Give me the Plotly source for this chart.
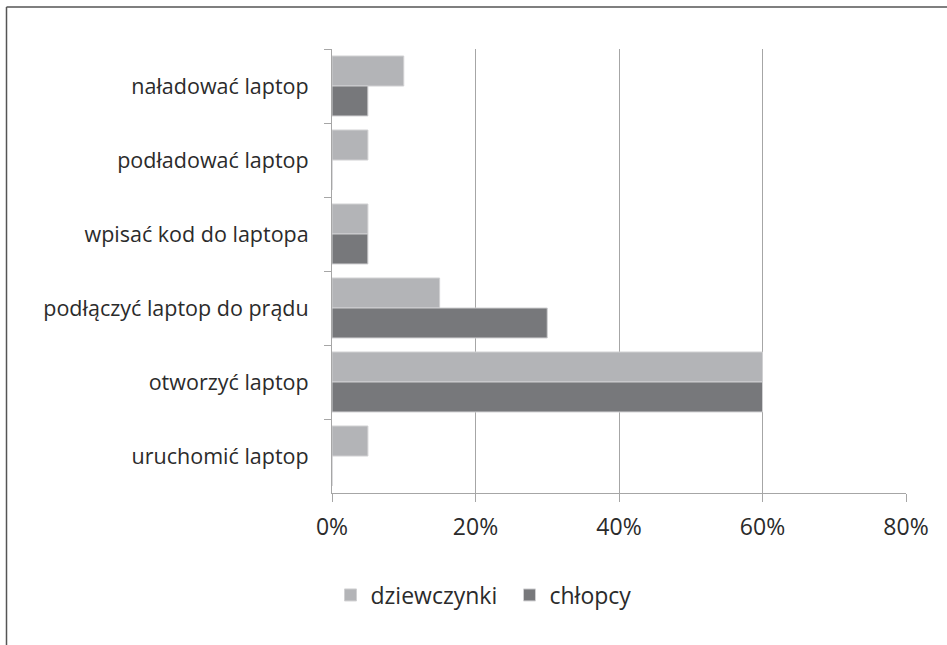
import plotly.graph_objects as go

# Survey answers (share of pupils), listed top to bottom
categories = [
    "naładować laptop",
    "podładować laptop",
    "wpisać kod do laptopa",
    "podłączyć laptop do prądu",
    "otworzyć laptop",
    "uruchomić laptop",
]
girls = [0.10, 0.05, 0.05, 0.15, 0.60, 0.05]
boys = [0.05, 0.00, 0.05, 0.30, 0.60, 0.00]
x_ticks = [0, 0.2, 0.4, 0.6, 0.8]
x_tick_labels = ["0%", "20%", "40%", "60%", "80%"]

W, H = 947, 645
ML, MR, MT, MB = 332, 41, 49, 152
FONT = "Open Sans"
TEXT = "#2b2b2b"
AXIS = "#a6a6a6"

fig = go.Figure()
fig.add_trace(go.Bar(
    y=categories, x=girls, name="dziewczynki", orientation="h",
    marker=dict(color="#b3b4b7", line=dict(color="#d0d0d2", width=1)),
))
fig.add_trace(go.Bar(
    y=categories, x=boys, name="chłopcy", orientation="h",
    marker=dict(color="#77787b", line=dict(color="#d0d0d2", width=1)),
))

# frame lines along the top and left edges of the page
pw = W - ML - MR
ph = H - MT - MB
def px_x(p):
    return (p - ML) / pw
def px_y(p):
    return 1 - (p - MT) / ph

fig.add_shape(type="line", xref="paper", yref="paper",
              x0=px_x(6.5), x1=px_x(W + 5), y0=px_y(7), y1=px_y(7),
              line=dict(color="#555555", width=1.5))
fig.add_shape(type="line", xref="paper", yref="paper",
              x0=px_x(6.5), x1=px_x(6.5), y0=px_y(7), y1=px_y(H + 5),
              line=dict(color="#555555", width=1.5))

fig.update_layout(
    width=W, height=H,
    margin=dict(l=ML, r=MR, t=MT, b=MB, pad=0),
    paper_bgcolor="white", plot_bgcolor="white",
    barmode="group", bargap=0.19, bargroupgap=0,
    font=dict(family=FONT, size=21.5, color=TEXT),
    showlegend=True,
    legend=dict(
        orientation="h", xref="container", yref="container",
        x=0.538, xanchor="center", y=1 - 595 / H, yanchor="middle",
        font=dict(family=FONT, size=23, color=TEXT),
        itemwidth=30, traceorder="normal", entrywidth=134,
    ),
    xaxis=dict(
        range=[0, 0.8], tickvals=x_ticks, ticktext=x_tick_labels,
        showgrid=True, gridcolor=AXIS, gridwidth=1,
        showline=True, linecolor=AXIS, linewidth=1,
        ticks="outside", ticklen=8, tickcolor=AXIS, tickwidth=1,
        ticklabelstandoff=5, zeroline=False,
        tickfont=dict(family=FONT, size=23, color=TEXT),
    ),
    yaxis=dict(
        autorange="reversed", showgrid=False,
        showline=True, linecolor=AXIS, linewidth=1,
        ticks="outside", ticklen=7, tickcolor=AXIS, tickwidth=1,
        tickson="boundaries", ticklabelstandoff=18,
        tickfont=dict(family=FONT, size=21.5, color=TEXT),
    ),
)

fig.write_html("out.html")
